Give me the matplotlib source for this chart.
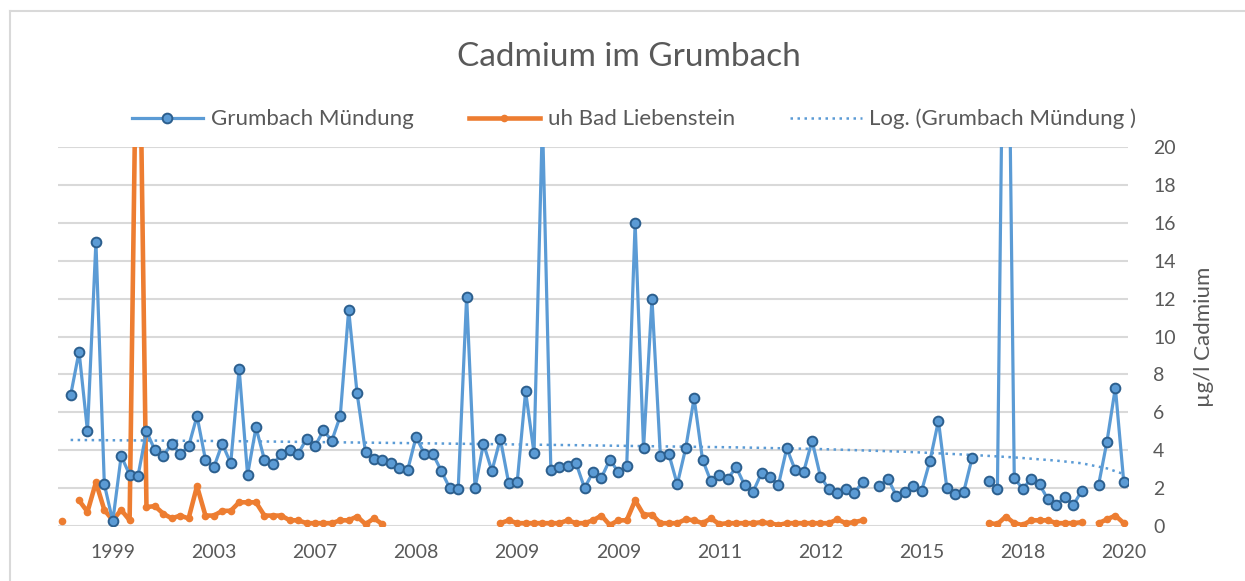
import matplotlib
matplotlib.use("Agg")
import matplotlib.pyplot as plt
from matplotlib.lines import Line2D
import numpy as np

nan = np.nan

# tick labels as shown on the category axis (every 12th category)
tick_pos = [6, 18, 30, 42, 54, 66, 78, 90, 102, 114, 126]
tick_labels = ['1999', '2003', '2007', '2008', '2009', '2009', '2011', '2012', '2015', '2018', '2020']

# Grumbach Mündung, one value per category (µg/l)
muendung = [
    nan, 6.9, 9.2, 5.0, 15.0, 2.2, 0.25, 3.7, 2.7, 2.65,
    5.0, 4.0, 3.7, 4.35, 3.8, 4.2, 5.8, 3.5, 3.1, 4.35,
    3.3, 8.3, 2.7, 5.2, 3.5, 3.25, 3.8, 4.0, 3.8, 4.6,
    4.2, 5.05, 4.5, 5.8, 11.4, 7.0, 3.9, 3.55, 3.5, 3.3,
    3.05, 2.95, 4.7, 3.8, 3.8, 2.9, 2.0, 1.95, 12.1, 2.0,
    4.35, 2.9, 4.6, 2.25, 2.3, 7.1, 3.85, 21.5, 2.95, 3.1,
    3.15, 3.3, 2.0, 2.85, 2.55, 3.5, 2.85, 3.15, 16.0, 4.1,
    12.0, 3.7, 3.8, 2.2, 4.1, 6.75, 3.5, 2.35, 2.7, 2.5,
    3.1, 2.15, 1.8, 2.8, 2.6, 2.15, 4.1, 2.95, 2.85, 4.5,
    2.6, 1.95, 1.75, 1.95, 1.75, 2.3, nan, 2.1, 2.5, 1.6,
    1.8, 2.1, 1.85, 3.45, 5.55, 2.0, 1.7, 1.8, 3.6, nan,
    2.35, 1.95, 40.0, 2.55, 1.95, 2.5, 2.2, 1.4, 1.1, 1.55,
    1.1, 1.85, nan, 2.15, 4.45, 7.3, 2.3,
]

# uh Bad Liebenstein
liebenstein = [
    0.25, nan, 1.35, 0.75, 2.3, 0.85, 0.3, 0.85, 0.3, 33.0,
    1.0, 1.05, 0.65, 0.4, 0.55, 0.4, 2.1, 0.55, 0.55, 0.8,
    0.8, 1.25, 1.25, 1.25, 0.55, 0.55, 0.55, 0.3, 0.3, 0.15,
    0.15, 0.15, 0.15, 0.3, 0.3, 0.5, 0.1, 0.4, 0.1, nan,
    nan, nan, nan, nan, nan, nan, nan, nan, nan, nan,
    nan, nan, 0.15, 0.3, 0.15, 0.15, 0.15, 0.15, 0.15, 0.15,
    0.3, 0.15, 0.15, 0.3, 0.55, 0.05, 0.3, 0.3, 1.35, 0.6,
    0.6, 0.15, 0.15, 0.15, 0.35, 0.3, 0.15, 0.4, 0.1, 0.15,
    0.15, 0.15, 0.15, 0.2, 0.15, 0.05, 0.15, 0.15, 0.15, 0.15,
    0.15, 0.15, 0.35, 0.15, 0.2, 0.3, nan, nan, nan, nan,
    nan, nan, nan, nan, nan, nan, nan, nan, nan, nan,
    0.15, 0.1, 0.5, 0.15, 0.05, 0.3, 0.3, 0.3, 0.15, 0.15,
    0.15, 0.2, nan, 0.15, 0.35, 0.55, 0.15,
]

trend_idx = [1, 20, 40, 60, 80, 90, 100, 108, 113, 118, 121, 124, 126]
trend_val = [4.54, 4.48, 4.38, 4.27, 4.15, 4.06, 3.92, 3.75, 3.62, 3.45, 3.31, 3.04, 2.74]

blue = '#5B9BD5'
orange = '#ED7D31'
edge = '#2C5F8E'
grey = '#595959'
dotted = (0, (1, 1.8))

plt.rcParams['font.family'] = ['Lato', 'DejaVu Sans']

fig = plt.figure(figsize=(12.45, 5.81), dpi=100)
ax = fig.add_axes([58 / 1245, 1 - 526 / 581, 1070 / 1245, 379 / 581])

x = np.arange(len(muendung))

ax.plot(trend_idx, trend_val, color=blue, lw=1.8, linestyle=dotted, zorder=2)
ax.plot(x, liebenstein, color=orange, lw=3.3, marker='o', markersize=5.5,
        markeredgewidth=0, zorder=3)
ax.plot(x, muendung, color=blue, lw=2.3, marker='o', markersize=7,
        markerfacecolor=blue, markeredgecolor=edge, markeredgewidth=1.4, zorder=4)

ax.set_xlim(-0.5, len(muendung) - 0.5)
ax.set_ylim(0, 20)
ax.set_yticks(range(0, 21, 2))
ax.yaxis.tick_right()
ax.yaxis.set_label_position('right')
ax.grid(axis='y', color='#D9D9D9', lw=1.5)
ax.set_axisbelow(True)
ax.set_xticks(tick_pos)
ax.set_xticklabels(tick_labels)
ax.tick_params(axis='both', length=0, labelsize=14, labelcolor=grey)
ax.tick_params(axis='y', pad=18)
ax.tick_params(axis='x', pad=13)
for s in ax.spines.values():
    s.set_visible(False)
ax.set_ylabel('µg/l Cadmium', fontsize=16, color=grey, labelpad=13)

fig.text(628.5 / 1245, 1 - 57 / 581, 'Cadmium im Grumbach', ha='center', va='center',
         fontsize=24, color=grey)

handles = [
    Line2D([], [], color=blue, lw=2.3, marker='o', markersize=7,
           markerfacecolor=blue, markeredgecolor=edge, markeredgewidth=1.4),
    Line2D([], [], color=orange, lw=3.3, marker='o', markersize=5.5, markeredgewidth=0),
    Line2D([], [], color=blue, lw=1.8, linestyle=dotted),
]
labels = ['Grumbach Mündung', 'uh Bad Liebenstein', 'Log. (Grumbach Mündung )']
leg = fig.legend(handles, labels, loc='center', bbox_to_anchor=(634 / 1245, 1 - 119 / 581),
                 ncol=3, frameon=False, fontsize=16, handlelength=3.2,
                 columnspacing=2.5, handletextpad=0.35, borderpad=0, borderaxespad=0)
for t in leg.get_texts():
    t.set_color(grey)

# chart area border (visible on top and left only)
fig.add_artist(Line2D([10 / 1245, 1], [1 - 11 / 581, 1 - 11 / 581],
                      transform=fig.transFigure, color='#D9D9D9', lw=1.5))
fig.add_artist(Line2D([10 / 1245, 10 / 1245], [0, 1 - 11 / 581],
                      transform=fig.transFigure, color='#D9D9D9', lw=1.5))

fig.savefig('out.png', dpi=100)
